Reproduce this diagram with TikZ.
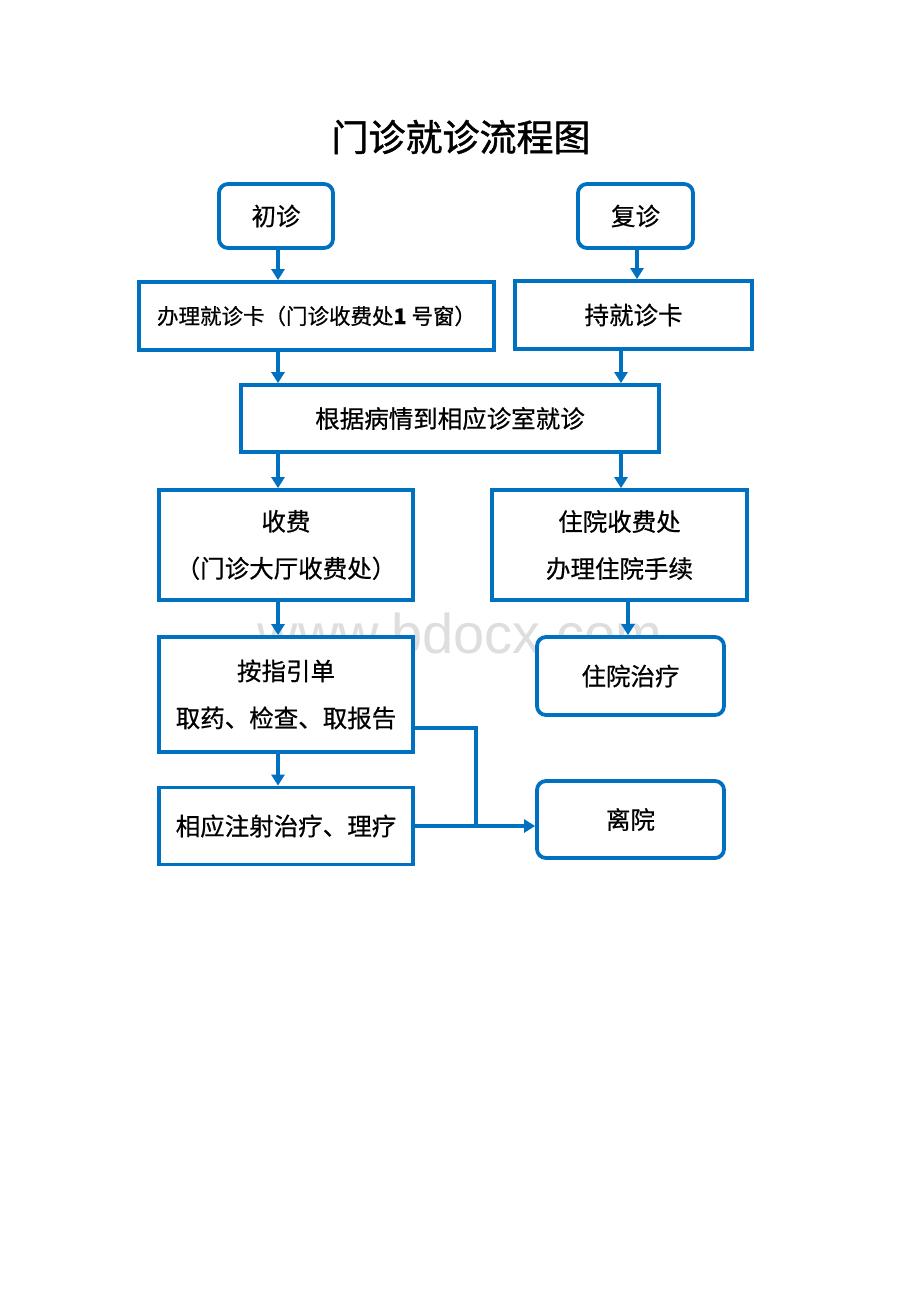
\documentclass[tikz,border=0pt]{standalone}
\usepackage{fontspec}
\setmainfont{Noto Sans CJK SC}
\newfontfamily\cjk[FakeBold=0.6]{Noto Sans CJK SC}
\newfontfamily\cjkt[FakeBold=1.2]{Noto Sans CJK SC}
\newfontfamily\wmfont{Liberation Sans}
\usetikzlibrary{arrows.meta}
\definecolor{bblue}{HTML}{0070C0}
\begin{document}
\begin{tikzpicture}[x=1pt,y=-1pt,
  box/.style={draw=bblue,line width=3.8pt,fill=white,inner sep=0pt,align=center,
    font=\cjk\fontsize{24.5}{47}\selectfont,text=black},
  rbox/.style={box,rounded corners=9pt},
  conn/.style={draw=bblue,line width=3.2pt},
  arr/.style={conn,-{Triangle[width=13pt,length=11pt]}}]
\useasboundingbox (0,0) rectangle (920,1302);
\fill[white] (0,0) rectangle (920,1302);
\node[text=black!13,inner sep=0pt,anchor=base,font=\wmfont\fontsize{56}{60}\selectfont] (wm) at (460,653) {www.bdocx.com};
\node[font=\cjkt\fontsize{37}{40}\selectfont] (title) at (461,137) {门诊就诊流程图};

\node[rbox,minimum width=114,minimum height=64] (chuzhen) at (276,216) {初诊};
\node[rbox,minimum width=115,minimum height=64] (fuzhen) at (635.5,216) {复诊};
\node[box,minimum width=355,minimum height=68,font=\cjk\fontsize{21.5}{26}\selectfont] (banli) at (316.5,316) {办理就诊卡（门诊收费处\textbf{1} 号窗）};
\node[box,minimum width=237,minimum height=68] (chika) at (633.5,315) {持就诊卡};
\node[box,minimum width=418,minimum height=67] (genju) at (450,418.5) {根据病情到相应诊室就诊};
\node[box,minimum width=254,minimum height=110] (shoufei) at (286,545) {收费\\（门诊大厅收费处）};
\node[box,minimum width=255,minimum height=110] (zyfee) at (619.5,545) {住院收费处\\办理住院手续};
\node[box,minimum width=254,minimum height=115] (anzhi) at (286,694.5) {按指引单\\取药、检查、取报告};
\node[rbox,minimum width=187,minimum height=78] (zyzl) at (630.5,676) {住院治疗};
\node[box,minimum width=254,minimum height=77] (xiangying) at (286,826) {相应注射治疗、理疗};
\node[rbox,minimum width=187,minimum height=77] (liyuan) at (630.5,819.5) {离院};

\coordinate (cL) at (278,0);
\coordinate (cR) at (621,0);
\draw[arr] (chuzhen.south -| cL) -- (banli.north -| cL);
\draw[arr] (fuzhen.south -| 637,0) -- (chika.north -| 637,0);
\draw[arr] (banli.south -| cL) -- (genju.north -| cL);
\draw[arr] (chika.south -| cR) -- (genju.north -| cR);
\draw[arr] (genju.south -| cL) -- (shoufei.north -| cL);
\draw[arr] (genju.south -| cR) -- (zyfee.north -| cR);
\draw[arr] (shoufei.south -| cL) -- (anzhi.north -| cL);
\draw[arr] (zyfee.south -| 628,0) -- (zyzl.north -| 628,0);
\draw[arr] (anzhi.south -| cL) -- (xiangying.north -| cL);
\coordinate (bend) at (476,728);
\draw[conn] (anzhi.east |- bend) -- (bend) -- (bend |- xiangying.east);
\draw[arr] (xiangying.east) -- (xiangying.east -| liyuan.west);
\end{tikzpicture}
\end{document}
